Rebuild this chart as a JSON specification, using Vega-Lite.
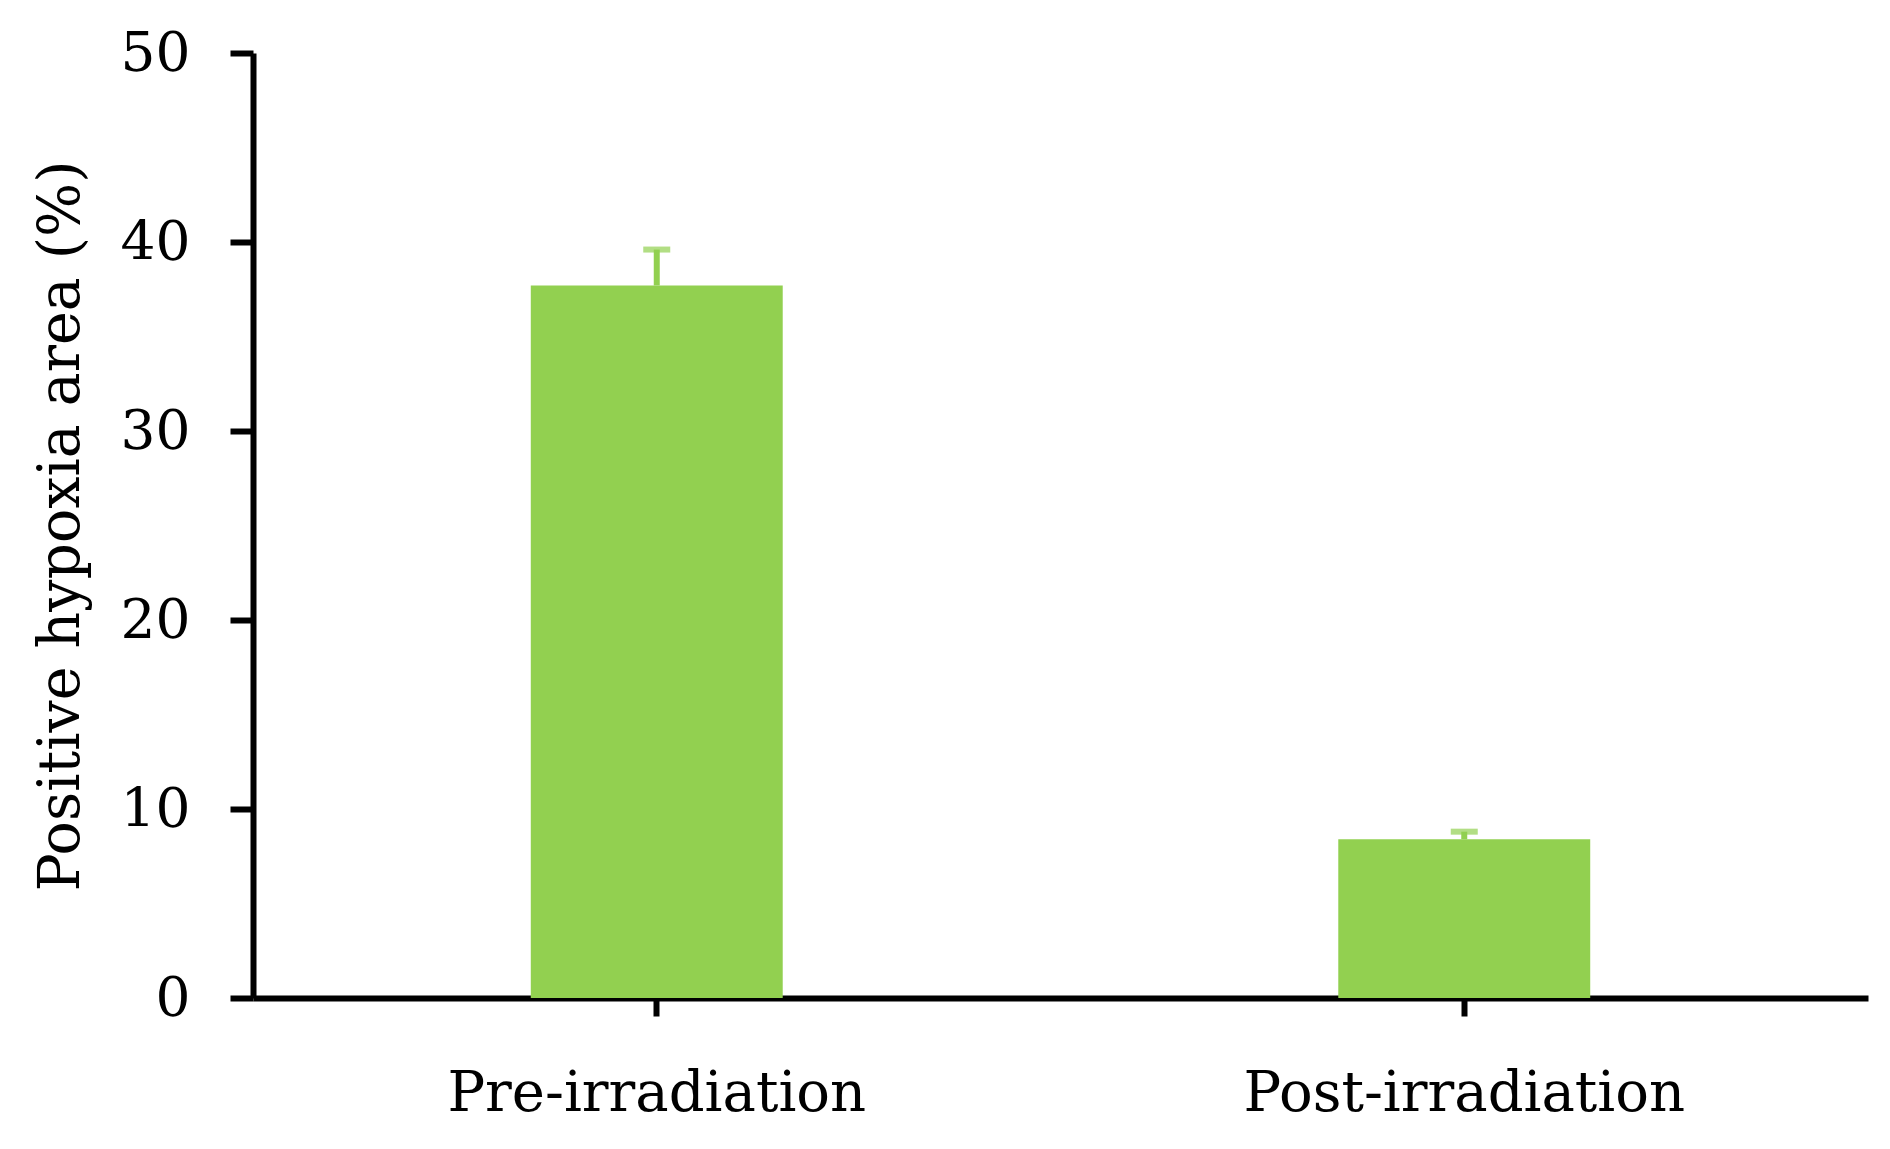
{
  "$schema": "https://vega.github.io/schema/vega-lite/v6.json",
  "width": 1615,
  "height": 945,
  "autosize": {"type": "none"},
  "padding": {"left": 253, "top": 53, "right": 22, "bottom": 151},
  "background": "white",
  "config": {
    "view": {"stroke": null},
    "font": "DejaVu Serif"
  },
  "data": {
    "values": [
      {"group": "Pre-irradiation", "value": 37.7, "upper": 39.6},
      {"group": "Post-irradiation", "value": 8.4, "upper": 8.8}
    ]
  },
  "encoding": {
    "x": {
      "field": "group",
      "type": "nominal",
      "sort": null,
      "scale": {"paddingInner": 0, "paddingOuter": 0},
      "axis": {
        "title": null,
        "labelAngle": 0,
        "labelLimit": 0,
        "labelFont": "DejaVu Serif",
        "labelFontSize": 56,
        "labelColor": "black",
        "labelPadding": 50,
        "tickSize": 18,
        "tickWidth": 6,
        "tickColor": "black",
        "domainColor": "black",
        "domainWidth": 6,
        "grid": false
      }
    }
  },
  "layer": [
    {
      "mark": {"type": "bar", "color": "#92D050", "width": {"band": 0.312}},
      "encoding": {
        "y": {
          "field": "value",
          "type": "quantitative",
          "scale": {"domain": [0, 50], "nice": false},
          "axis": {
            "title": "Positive hypoxia area (%)",
            "titleFont": "DejaVu Serif",
            "titleFontSize": 57,
            "titleFontWeight": "normal",
            "titleColor": "black",
            "titlePadding": 30,
            "titleLimit": 0,
            "values": [0, 10, 20, 30, 40, 50],
            "labelFont": "DejaVu Serif",
            "labelFontSize": 55,
            "labelColor": "black",
            "labelPadding": 40,
            "tickSize": 23,
            "tickWidth": 6,
            "tickColor": "black",
            "domainColor": "black",
            "domainWidth": 6,
            "grid": false
          }
        }
      }
    },
    {
      "mark": {"type": "rule", "color": "#92D050", "strokeWidth": 6},
      "encoding": {
        "y": {"field": "value", "type": "quantitative"},
        "y2": {"field": "upper"}
      }
    },
    {
      "mark": {"type": "tick", "color": "#92D050", "size": 27, "thickness": 6, "orient": "horizontal"},
      "encoding": {
        "y": {"field": "upper", "type": "quantitative"}
      }
    }
  ]
}
